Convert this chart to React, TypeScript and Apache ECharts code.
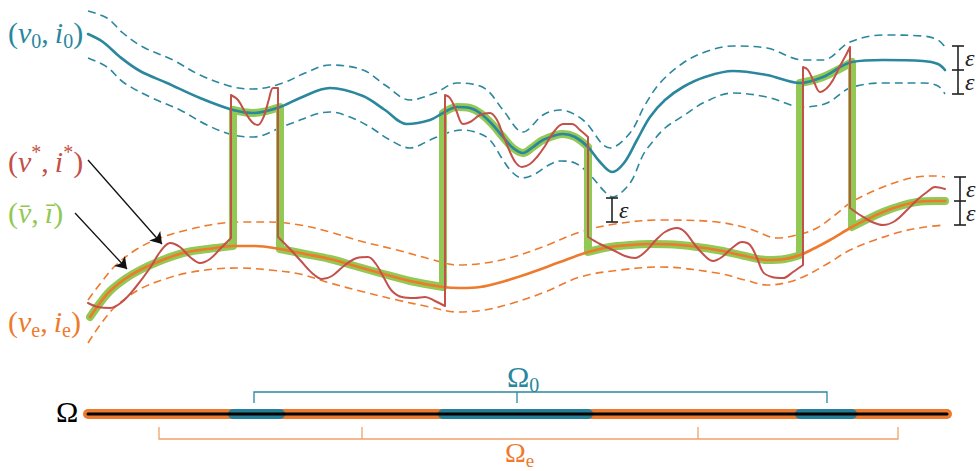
import React, { useEffect, useRef } from "react";
import * as echarts from "echarts";

type P = [number, number];

// ---- curve data (x, y in diagram units; y grows downward) ----
const BLUE_MID: P[] = [[88,34],[103,42],[120,57],[140,71],[167,83],[200,98],[233,110],[253,113],[280,107],[300,98],[330,88],[363,96],[385,110],[407,124],[430,120],[443,113],[457,107],[470,108],[480,113],[492,124],[503,137],[513,148],[523,153],[533,147],[543,140],[563,134],[575,137],[588,147],[600,162],[612,172],[624,163],[637,140],[650,117],[665,100],[683,87],[705,77],[733,71],[767,75],[800,83],[823,77],[852,62],[883,60],[923,61],[938,64],[945,70]];
const BLUE_UP: P[] = [[88,11],[107,18],[123,33],[143,47],[173,60],[200,75],[233,87],[253,89],[283,83],[305,73],[330,65],[363,70],[385,85],[410,100],[435,93],[457,83],[472,84],[487,90],[503,110],[523,132],[543,115],[560,110],[583,120],[610,148],[630,133],[645,105],[660,83],[683,63],[705,52],[733,46],[767,48],[803,60],[823,60],[850,42],[883,35],[923,36],[938,40],[945,47]];
const BLUE_LO: P[] = [[88,58],[107,67],[123,82],[150,97],[180,110],[207,125],[233,135],[253,137],[287,125],[330,112],[350,117],[370,127],[390,140],[410,148],[430,140],[447,133],[463,130],[478,133],[490,140],[503,160],[512,172],[522,178],[535,174],[547,166],[560,161],[575,163],[590,175],[605,192],[613,197],[622,192],[632,180],[643,155],[650,145],[665,128],[683,116],[705,102],[733,93],[767,97],[803,107],[827,103],[850,88],[883,83],[923,83],[938,86],[945,94]];

const ORANGE_MID: P[] = [[90,317],[100,303],[110,291],[125,279],[140,270],[160,261],[183,253],[208,249],[233,246],[255,246],[280,249],[305,254],[330,259],[355,266],[380,273],[410,281],[443,287],[460,288],[480,287],[505,281],[530,273],[560,262],[588,252],[610,247],[630,245],[650,244],[680,245],[717,250],[745,256],[767,260],[785,259],[800,255],[815,248],[830,240],[852,227],[870,218],[883,212],[900,206],[917,202],[935,201],[945,201]];
const ORANGE_UP: P[] = [[88,300],[100,284],[115,266],[137,249],[160,238],[187,230],[215,224],[240,222],[270,222],[300,225],[330,232],[360,241],[397,250],[430,259],[457,265],[485,263],[513,257],[545,246],[580,232],[615,224],[660,220],[717,222],[750,229],[777,238],[797,235],[817,228],[835,215],[850,203],[867,194],[883,187],[900,181],[917,177],[935,176],[945,177]];
const ORANGE_LO: P[] = [[88,343],[100,325],[115,307],[140,289],[165,279],[187,273],[215,269],[240,268],[270,270],[300,274],[330,283],[360,291],[397,300],[430,307],[457,312],[485,310],[513,303],[545,292],[580,277],[620,270],[660,267],[717,273],[745,280],[767,285],[785,283],[803,277],[827,264],[850,250],[875,240],[900,232],[925,227],[945,225]];

// red (v*, i*) pieces; consecutive pieces are joined by vertical jumps
const RED_1: P[] = [[88,303],[98,307],[110,308],[122,302],[135,288],[150,268],[160,252],[170,243],[180,247],[190,257],[200,263],[210,259],[220,249],[231,238]];
const RED_2: P[] = [[231,95],[238,100],[245,112],[252,122],[258,125],[264,116],[269,99],[273,88],[278,88]];
const RED_3: P[] = [[278,237],[290,249],[300,260],[312,273],[322,279],[332,276],[345,265],[357,258],[368,257],[376,264],[384,278],[392,291],[402,297],[415,298],[425,297],[435,301],[445,306]];
const RED_4: P[] = [[445,95],[450,98],[456,110],[463,124],[470,122],[480,115],[490,113],[497,120],[503,135],[510,152],[516,163],[522,167],[530,164],[537,157],[545,146],[553,133],[563,124],[572,124],[580,130],[588,137]];
const RED_5: P[] = [[588,237],[600,244],[613,250],[625,256],[635,258],[645,252],[655,241],[665,232],[677,228],[685,232],[695,245],[705,256],[713,261],[722,257],[732,248],[742,242],[750,245],[757,258],[763,272],[772,277],[783,278],[793,272],[803,265]];
const RED_6: P[] = [[803,67],[808,70],[814,82],[820,92],[827,88],[833,80],[840,66],[846,55],[850,47]];
const RED_7: P[] = [[850,208],[860,215],[872,222],[883,225],[895,221],[907,210],[917,200],[927,192],[935,187],[945,189]];
const RED_PIECES: P[][] = [RED_1, RED_2, RED_3, RED_4, RED_5, RED_6, RED_7];

// switching abscissae of the (v̄, ī) path between the two branches
const SWITCH_X: number[] = [233, 280, 443, 588, 800, 852];

// domain bar
const OMEGA_START = 88;
const OMEGA_END = 947;
const OMEGA0_TICKS: number[] = [254, 517, 827];
const OMEGAE_TICKS: number[] = [159, 362, 698, 898];

// ---- colours ----
const TEAL = "#2a879d";
const ORANGE = "#ee7a2e";
const RED = "#c4504a";
const GREEN = "#92c955";
const LIGHT_ORANGE = "#f2a06a";
const INK = "#222222";

const yAt = (arr: P[], x: number) => {
  const p = arr.find((q) => q[0] === x);
  return p ? p[1] : 0;
};
const sliceX = (arr: P[], a: number, b: number) => arr.filter((p) => p[0] >= a && p[0] <= b);

const curve = (data: P[], color: string, width: number, z: number, dashed = false) => ({
  type: "line",
  data,
  smooth: 0.35,
  symbol: "none",
  silent: true,
  z,
  lineStyle: {
    color,
    width,
    type: dashed ? [8, 5] : "solid",
    cap: dashed ? "butt" : "round",
    join: "round",
  },
});

const segs = (data: any[], color: string, width: number, z: number, extra: any = {}) => ({
  type: "lines",
  coordinateSystem: "cartesian2d",
  polyline: true,
  silent: true,
  z,
  data,
  symbol: "none",
  lineStyle: { color, width, opacity: 1, cap: "butt" },
  ...extra,
});

const FONT = "'Liberation Serif', 'DejaVu Serif', serif";
const rich = (c: string, s: number) => {
  const sub = Math.round(s * 0.68);
  const lh = Math.round(s * 1.25);
  return {
    n: { fill: c, font: `normal ${s}px ${FONT}`, lineHeight: lh },
    i: { fill: c, font: `italic ${s}px ${FONT}`, lineHeight: lh },
    s: { fill: c, font: `normal ${sub}px ${FONT}`, lineHeight: sub, verticalAlign: "bottom" },
    u: { fill: c, font: `normal ${sub}px ${FONT}`, lineHeight: sub, verticalAlign: "top" },
  };
};
const label = (x: number, y: number, color: string, text: string, size = 30) => ({
  type: "text",
  x,
  y,
  z: 100,
  silent: true,
  style: {
    text,
    fill: color,
    font: `normal ${size}px ${FONT}`,
    align: "left",
    verticalAlign: "middle",
    rich: rich(color, size),
  },
});

function buildOption() {
  const series: any[] = [];

  // epsilon tubes
  [BLUE_UP, BLUE_LO].forEach((d) => series.push(curve(d, TEAL, 1.6, 2, true)));
  [ORANGE_UP, ORANGE_LO].forEach((d) => series.push(curve(d, ORANGE, 1.6, 2, true)));

  // green (v̄, ī): alternates between orange branch and blue branch
  const bounds = [ORANGE_MID[0][0], ...SWITCH_X, ORANGE_MID[ORANGE_MID.length - 1][0]];
  for (let k = 0; k < bounds.length - 1; k++) {
    const src = k % 2 === 0 ? ORANGE_MID : BLUE_MID;
    series.push(curve(sliceX(src, bounds[k], bounds[k + 1]), GREEN, 8, 3));
  }
  series.push(
    segs(
      SWITCH_X.map((x) => ({ coords: [[x, yAt(ORANGE_MID, x)], [x, yAt(BLUE_MID, x)]] })),
      GREEN,
      8,
      3
    )
  );

  // solid branches
  series.push(curve(BLUE_MID, TEAL, 2.6, 4));
  series.push(curve(ORANGE_MID, ORANGE, 2.6, 4));

  // red (v*, i*)
  RED_PIECES.forEach((d) => series.push(curve(d, RED, 2, 5)));
  const redJumps: any[] = [];
  for (let k = 0; k < RED_PIECES.length - 1; k++) {
    const a = RED_PIECES[k][RED_PIECES[k].length - 1];
    const b = RED_PIECES[k + 1][0];
    redJumps.push({ coords: [a, b] });
  }
  series.push(segs(redJumps, RED, 2, 5));

  // epsilon brackets
  const brackets = [
    { x: 958, t: [46, 70, 94] },
    { x: 960, t: [177, 201, 225] },
    { x: 612, t: [198, 222] },
  ];
  const bData: any[] = [];
  brackets.forEach((b) => {
    bData.push({ coords: [[b.x, b.t[0]], [b.x, b.t[b.t.length - 1]]] });
    b.t.forEach((t) => bData.push({ coords: [[b.x - 6, t], [b.x + 6, t]] }));
  });
  series.push(segs(bData, INK, 1.6, 6));

  // arrows
  series.push(
    segs(
      [
        { coords: [[88, 160], [162, 244]] },
        { coords: [[75, 213], [127, 269]] },
      ],
      "#111111",
      1.3,
      6,
      { symbol: ["none", "arrow"], symbolSize: 11, polyline: false }
    )
  );

  // Omega bar
  const oy = 414;
  series.push({
    type: "line", data: [[OMEGA_START, oy], [OMEGA_END, oy]], symbol: "none", silent: true, z: 2,
    lineStyle: { color: ORANGE, width: 10, cap: "round" },
  });
  for (let k = 0; k < SWITCH_X.length; k += 2) {
    series.push({
      type: "line", data: [[SWITCH_X[k], oy], [SWITCH_X[k + 1], oy]], symbol: "none", silent: true, z: 3,
      lineStyle: { color: "#257f96", width: 10, cap: "round" },
    });
  }
  series.push({
    type: "line", data: [[OMEGA_START, oy], [OMEGA_END, oy]], symbol: "none", silent: true, z: 4,
    lineStyle: { color: "#000000", width: 3, cap: "round" },
  });

  // Omega_0 bracket
  const o0 = [
    { coords: [[OMEGA0_TICKS[0], 403], [OMEGA0_TICKS[0], 392], [OMEGA0_TICKS[OMEGA0_TICKS.length - 1], 392], [OMEGA0_TICKS[OMEGA0_TICKS.length - 1], 403]] },
    ...OMEGA0_TICKS.slice(1, -1).map((x) => ({ coords: [[x, 392], [x, 403]] })),
  ];
  series.push(segs(o0, TEAL, 1.3, 5));
  // Omega_e bracket
  const oe = [
    { coords: [[OMEGAE_TICKS[0], 427], [OMEGAE_TICKS[0], 439], [OMEGAE_TICKS[OMEGAE_TICKS.length - 1], 439], [OMEGAE_TICKS[OMEGAE_TICKS.length - 1], 427]] },
    ...OMEGAE_TICKS.slice(1, -1).map((x) => ({ coords: [[x, 439], [x, 427]] })),
  ];
  series.push(segs(oe, LIGHT_ORANGE, 1.3, 5));

  const graphic = [
    label(8, 32, TEAL, "{n|(}{i|v}{s|0}{n|,\u2009}{i|i}{s|0}{n|)}"),
    label(8, 161, RED, "{n|(}{i|v}{u|*}{n|,\u2009}{i|i}{u|*}{n|)}"),
    label(8, 212, GREEN, "{n|(}{i|v\u0304}{n|,\u2009}{i|i\u0304}{n|)}"),
    label(8, 321, ORANGE, "{n|(}{i|v}{s|e}{n|,\u2009}{i|i}{s|e}{n|)}"),
    label(56, 411, "#000000", "{n|Ω}"),
    label(507, 376, TEAL, "{n|Ω}{s|0}"),
    label(505, 452, ORANGE, "{n|Ω}{s|e}", 28),
    label(965, 58, INK, "{i|ε}", 24),
    label(965, 82, INK, "{i|ε}", 24),
    label(966, 189, INK, "{i|ε}", 24),
    label(966, 213, INK, "{i|ε}", 24),
    label(619, 210, INK, "{i|ε}", 24),
  ];

  return {
    animation: false,
    backgroundColor: "#ffffff",
    grid: { left: 0, right: 0, top: 0, bottom: 0 },
    xAxis: { type: "value", min: 0, max: 980, show: false },
    yAxis: { type: "value", min: 0, max: 471, inverse: true, show: false },
    series,
    graphic,
  };
}

export default function App() {
  const ref = useRef<HTMLDivElement>(null);
  useEffect(() => {
    if (!ref.current) return;
    const chart = echarts.init(ref.current, null, { renderer: "svg" });
    chart.setOption(buildOption() as any);
    return () => chart.dispose();
  }, []);
  return (
    <div
      ref={ref}
      style={{ position: "absolute", left: 0, top: 0, width: 980, height: 471, background: "#fff" }}
    />
  );
}
